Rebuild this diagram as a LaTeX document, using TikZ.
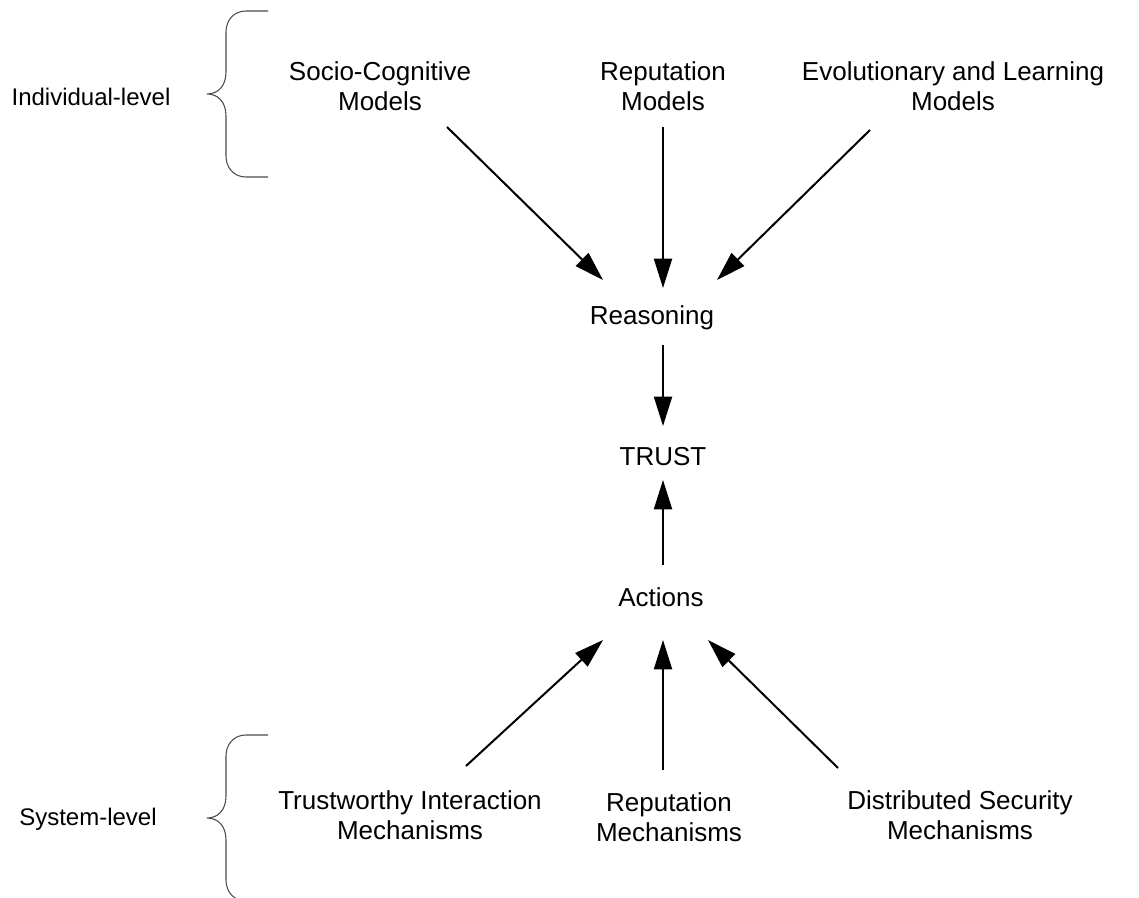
\documentclass[tikz,border=0pt]{standalone}
\usepackage{fontspec}
\setmainfont{Liberation Sans}
\usetikzlibrary{arrows.meta,calc}
\begin{document}
\begin{tikzpicture}[x=0.75pt,y=-0.75pt,
  lbl/.style={align=center,inner sep=0pt,font=\fontsize{19.5pt}{22.5pt}\selectfont},
  side/.style={inner sep=0pt,font=\fontsize{18pt}{21pt}\selectfont},
  arr/.style={line width=1.5pt,-{Triangle[length=22pt,width=13.5pt]}},
  brace/.style={draw=black!70,line width=0.8pt}]
\useasboundingbox (0,0) rectangle (1139,898);
\begin{scope}
\clip (0,0) rectangle (1139,898);
% nodes
\node[lbl] (soc) at (380,86) {Socio-Cognitive\\Models};
\node[lbl] (repm) at (663,86) {Reputation\\Models};
\node[lbl] (evo) at (953,86) {Evolutionary and Learning\\Models};
\node[side] (ind) at (91,97) {Individual-level};
\node[lbl] (rea) at (652,318) {Reasoning};
\node[lbl] (trust) at (663,457) {TRUST};
\node[lbl] (act) at (661,597) {Actions};
\node[lbl] (twi) at (410,815) {Trustworthy Interaction\\Mechanisms};
\node[lbl] (repmech) at (669,817) {Reputation\\Mechanisms};
\node[lbl] (dsm) at (960,815) {Distributed Security\\Mechanisms};
\node[side] (sys) at (88,819) {System-level};
% connectors
\draw[arr] ($(soc)+(67,41)$) -- ($(rea)+(-49,-38)$);
\draw[arr] ($(repm)+(0,41)$) -- ($(rea)+(11,-30)$);
\draw[arr] ($(evo)+(-83,44)$) -- ($(rea)+(65,-38)$);
\draw[arr] ($(rea)+(11,27)$) -- ($(trust)+(0,-31)$);
\draw[arr] ($(act)+(2,-32)$) -- ($(trust)+(0,23)$);
\draw[arr] ($(twi)+(56,-49)$) -- ($(act)+(-58,43)$);
\draw[arr] ($(repmech)+(-6,-47)$) -- ($(act)+(2,43)$);
\draw[arr] ($(dsm)+(-122,-47)$) -- ($(act)+(47,43)$);
% braces
\draw[brace] (268,11) -- (246,11) .. controls (234,11) and (226,20) .. (226,32) -- (226,72)
  .. controls (226,86) and (218,94) .. (207,94) .. controls (218,94) and (226,102) .. (226,116)
  -- (226,156) .. controls (226,168) and (234,177) .. (246,177) -- (268,177);
\draw[brace] (268,735) -- (246,735) .. controls (234,735) and (226,744) .. (226,756) -- (226,796)
  .. controls (226,810) and (218,818) .. (207,818) .. controls (218,818) and (226,826) .. (226,840)
  -- (226,880) .. controls (226,892) and (234,901) .. (246,901) -- (268,901);
\end{scope}
\end{tikzpicture}
\end{document}
